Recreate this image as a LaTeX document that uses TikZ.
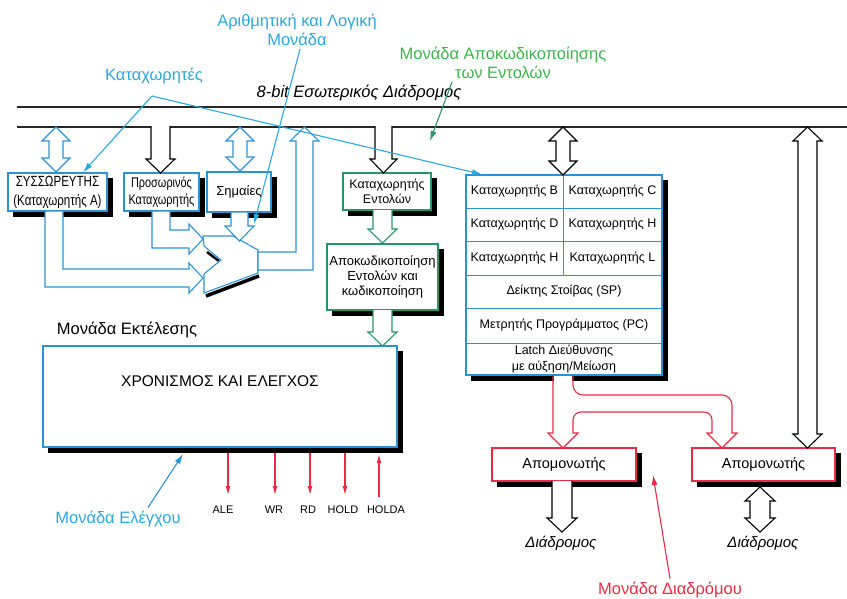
\documentclass[tikz,border=0pt]{standalone}
\usepackage{fontspec}
\setmainfont{Liberation Sans}
\newfontfamily\narrowfont{Liberation Sans}[FakeStretch=0.78]
\usepackage{xcolor}
\usepackage{tikz}
\usetikzlibrary{arrows.meta}

\definecolor{cpuBlue}{HTML}{2B93D5}
\definecolor{labBlue}{HTML}{29A8E0}
\definecolor{decGreen}{HTML}{3DB54A}
\definecolor{boxGreen}{HTML}{23976B}
\definecolor{busRed}{HTML}{EC2A45}

% hollow arrow, pointing down, open at the top
% #2 x, #3 y top, #4 y tip, #5 half shaft, #6 barb
\newcommand{\pipedown}[6][black]{%
  \fill[white] ({#2-#5},#3) -- ({#2-#5},{#4-14}) -- ({#2-#5-#6},{#4-14}) -- (#2,#4)
    -- ({#2+#5+#6},{#4-14}) -- ({#2+#5},{#4-14}) -- ({#2+#5},#3) -- cycle;
  \draw[#1, line width=1.1pt] ({#2-#5},#3) -- ({#2-#5},{#4-14}) -- ({#2-#5-#6},{#4-14})
    -- (#2,#4) -- ({#2+#5+#6},{#4-14}) -- ({#2+#5},{#4-14}) -- ({#2+#5},#3);}

% hollow arrow with two heads
\newcommand{\pipeboth}[6][black]{%
  \draw[#1, line width=1.1pt, fill=white]
    (#2,#3) -- ({#2+#5+#6},{#3+14}) -- ({#2+#5},{#3+14}) -- ({#2+#5},{#4-14})
    -- ({#2+#5+#6},{#4-14}) -- (#2,#4) -- ({#2-#5-#6},{#4-14}) -- ({#2-#5},{#4-14})
    -- ({#2-#5},{#3+14}) -- ({#2-#5-#6},{#3+14}) -- cycle;}

\begin{document}
\begin{tikzpicture}[x=1pt, y=-1pt, line join=miter,
  font=\fontsize{12.5}{14}\selectfont,
  bluebox/.style={fill=white, draw=cpuBlue, line width=1.2pt, inner sep=0pt, align=center},
  greenbox/.style={fill=white, draw=boxGreen, line width=1.2pt, inner sep=0pt, align=center},
  redbox/.style={fill=white, draw=busRed, line width=1.2pt, inner sep=0pt, align=center},
  shadowline/.style={black, line width=5pt, line cap=butt, line join=miter},
  bluepipe/.style={draw=cpuBlue, line width=1.1pt, fill=white},
  redpipe/.style={draw=busRed, line width=1.1pt},
  regline/.style={cpuBlue, line width=1pt},
  lbl/.style={font=\fontsize{16.5}{18.5}\selectfont, align=center},
  ann/.style={line width=1.1pt, -{Latex[length=10pt,width=6pt]}},
  sig/.style={busRed, line width=1.1pt, -{Latex[length=9pt,width=5pt]}}]

  \useasboundingbox (0,0) rectangle (847,598);

  % ── internal bus ──────────────────────────────────────────────
  \draw[line width=1.3pt, black!85] (17,107) -- (847,107);
  \draw[line width=1.3pt, black!85] (17,127) -- (847,127);
  \node[lbl, font=\fontsize{16.5}{18}\selectfont\itshape] (busTxt) at (359,93) {8-bit Εσωτερικός Διάδρομος};

  % ── registers and flags ───────────────────────────────────────
  \node[bluebox, minimum width=99, minimum height=38, font=\narrowfont\fontsize{14.8}{19}\selectfont] (acc) at (57.5,192) {ΣΥΣΣΩΡΕΥΤΗΣ\\(Καταχωρητής Α)};
  \node[bluebox, minimum width=75, minimum height=38, font=\narrowfont\fontsize{14}{17}\selectfont] (tmp) at (161.5,192) {Προσωρινός\\Καταχωρητής};
  \node[bluebox, minimum width=64, minimum height=40, font=\fontsize{13}{15}\selectfont] (flags) at (239,192) {Σημαίες};

  % ── instruction register and decoder ─────────────────────────
  \node[greenbox, minimum width=88, minimum height=37, font=\fontsize{12.5}{15}\selectfont] (ir) at (387,191.5) {Καταχωρητής\\Εντολών};
  \node[greenbox, minimum width=111, minimum height=66, font=\fontsize{13}{15}\selectfont] (dec) at (382.5,277) {Αποκωδικοποίηση\\Εντολών και\\κωδικοποίηση};

  % ── timing and control ────────────────────────────────────────
  \node[bluebox, minimum width=354, minimum height=101] (timing) at (220,396.5) {};
  \node[font=\fontsize{15.5}{17}\selectfont] (timingTxt) at (220,381) {ΧΡΟΝΙΣΜΟΣ ΚΑΙ ΕΛΕΓΧΟΣ};
  \node[lbl] (execLbl) at (127,330) {Μονάδα Εκτέλεσης};

  % ── register file ─────────────────────────────────────────────
  \node[bluebox, minimum width=196, minimum height=200] (regs) at (564,275) {};
  \foreach \y in {208,241,275,308,343}
    \draw[regline] (466,\y) -- (662,\y);
  \draw[regline] (563,175) -- (563,275);
  \foreach \y/\l/\r/\i in {191.5/B/C/1, 224.5/D/H/2, 258/H/L/3} {
    \node (regA\i) at (514.5,\y) {Καταχωρητής \l};
    \node (regB\i) at (612.5,\y) {Καταχωρητής \r};
  }
  \node (sp) at (564,291.5) {Δείκτης Στοίβας (SP)};
  \node (pc) at (564,325.5) {Μετρητής Προγράμματος (PC)};
  \node[align=center, font=\fontsize{12.5}{16}\selectfont] (latch) at (564,359) {Latch Διεύθυνσης\\με αύξηση/Μείωση};

  % ── buffers ───────────────────────────────────────────────────
  \node[redbox, minimum width=144, minimum height=33, font=\fontsize{14.5}{16}\selectfont] (bufL) at (564,464.5) {Απομονωτής};
  \node[redbox, minimum width=143, minimum height=33, font=\fontsize{14.5}{16}\selectfont] (bufR) at (763.5,464.5) {Απομονωτής};
  \node[font=\fontsize{15}{17}\selectfont\itshape] (extL) at (561,543) {Διάδρομος};
  \node[font=\fontsize{15}{17}\selectfont\itshape] (extR) at (763,543) {Διάδρομος};

  % ── black shadows along right and bottom edges ────────────────
  \foreach \n in {acc,tmp,flags,ir,dec,timing,regs,bufL,bufR}
    \draw[shadowline] ([shift={(3.1,5.5)}]\n.north east) -- ([shift={(3.1,3.1)}]\n.south east)
      -- ([shift={(5.5,3.1)}]\n.south west);

  % ── ALU ───────────────────────────────────────────────────────
  \draw[line width=3.5pt] (259,276) -- (206,296);
  \draw[line width=2.5pt] (207,252) -- (219,261);
  \draw[bluepipe] (203,236) -- (233,236) -- (258,250) -- (258,273) -- (204,293)
    -- (204,274) -- (221,260) -- (204,246) -- cycle;

  % ── hollow arrows to and from the bus ─────────────────────────
  \pipeboth[cpuBlue]{56}{127}{172}{7}{7}
  \pipeboth[cpuBlue]{240}{127}{171}{7}{7}
  \pipeboth{563}{127}{175}{7}{7}
  \pipeboth{807.5}{127}{448}{9.5}{5}
  \pipedown{160.5}{126}{173}{9.5}{5}
  \pipedown{383.5}{126}{173}{8.5}{5}
  \pipedown[boxGreen]{382.5}{210}{243}{9.5}{5}
  \pipedown[boxGreen]{382.5}{310}{346}{9.5}{5}
  \pipedown{562}{481}{532}{10}{5}
  \pipeboth{760}{487}{532}{10}{5}

  % ALU inputs and output
  \draw[bluepipe] (152,211) -- (152,248) -- (189,248) -- (189,254) -- (203,239)
    -- (189,224) -- (189,230) -- (170,230) -- (170,211) -- cycle;
  \draw[bluepipe] (45,211) -- (45,287) -- (189,287) -- (189,293) -- (203,278)
    -- (189,263) -- (189,269) -- (63,269) -- (63,211) -- cycle;
  \draw[bluepipe] (231,212) -- (231,226) -- (225,226) -- (239.5,241) -- (254,226)
    -- (248,226) -- (248,212) -- cycle;
  \draw[bluepipe] (258,252) -- (296,252) -- (296,141) -- (290,141) -- (304.5,127)
    -- (319,141) -- (313,141) -- (313,270) -- (258,270) -- cycle;

  % address latch to buffers
  \fill[white] (553.6,376) rectangle (572.4,382);
  \draw[redpipe] (553,375) -- (553,433) -- (548,433) -- (563,448) -- (578,433) -- (573,433) -- (573,424);
  \draw[redpipe, rounded corners=8] (573,424) -- (573,412) -- (712,412) -- (712,424);
  \draw[redpipe] (712,424) -- (712,433) -- (707,433) -- (722,448) -- (737,433) -- (732,433) -- (732,424);
  \draw[redpipe, rounded corners=10] (732,424) -- (732,395) -- (573,395) -- (573,375);

  % ── control signals ───────────────────────────────────────────
  \foreach \ax/\lx/\nm in {228/223/ALE, 275/274/WR, 310/308/RD, 345/343/HOLD} {
    \node[font=\fontsize{11}{12}\selectfont] (s\nm) at (\lx,510) {\nm};
    \coordinate (a\nm) at (\ax,495);
    \draw[sig] ([yshift=-5.5pt]timing.south -| a\nm) -- (a\nm);
  }
  \node[font=\fontsize{11}{12}\selectfont] (sHOLDA) at (386,510) {HOLDA};
  \coordinate (aHOLDA) at (379,497);
  \draw[sig, shorten >=1pt] (aHOLDA) -- ([yshift=-5.5pt]timing.south -| aHOLDA);

  % ── unit labels ───────────────────────────────────────────────
  \node[lbl, labBlue] (aluLbl) at (297,30) {Αριθμητική και Λογική\\Μονάδα};
  \coordinate (aluIn) at (254,224);
  \draw[ann, labBlue] ([xshift=3pt]aluLbl.south) -- (aluIn);

  \node[lbl, labBlue] (regLbl) at (154,76) {Καταχωρητές};
  \coordinate (regFork) at (152,96);
  \draw[ann, labBlue] (regFork) -- ([xshift=25.5pt]acc.north);
  \draw[ann, labBlue] (regFork) -- ([xshift=-82pt]regs.north);

  \node[lbl, decGreen] (decLbl) at (503,63) {Μονάδα Αποκωδικοποίησης\\των Εντολών};
  \coordinate (decIn) at (430,141);
  \draw[ann, boxGreen] ([xshift=-51pt]decLbl.south) -- (decIn);

  \node[lbl, labBlue] (ctlLbl) at (118,519) {Μονάδα Ελέγχου};
  \draw[ann, cpuBlue] ([xshift=30pt]ctlLbl.north) -- ([xshift=-37pt,yshift=-6.5pt]timing.south);

  \node[lbl, busRed] (busLbl) at (670,590) {Μονάδα Διαδρόμου};
  \coordinate (busIn) at (653,475);
  \draw[ann, busRed] (busLbl.north) -- (busIn);
\end{tikzpicture}
\end{document}
